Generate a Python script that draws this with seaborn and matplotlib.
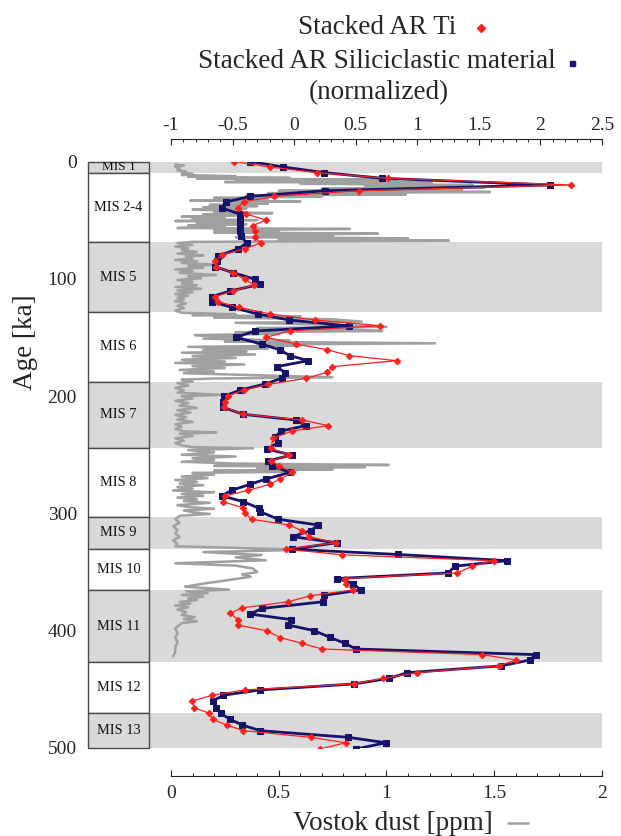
import numpy as np
import pandas as pd
import matplotlib
matplotlib.use("Agg")
import matplotlib.pyplot as plt
from matplotlib.lines import Line2D
from matplotlib.patches import Rectangle
from matplotlib.ticker import FixedLocator, FuncFormatter, MultipleLocator
import seaborn as sns

# ---------------------------------------------------------------- data
# Marine isotope stages (ka)
mis_labels = ["MIS 1", "MIS 2-4", "MIS 5", "MIS 6", "MIS 7", "MIS 8",
              "MIS 9", "MIS 10", "MIS 11", "MIS 12", "MIS 13"]
mis_bounds = [0, 10, 69, 128, 188, 244, 303, 330, 365, 427, 470, 500]
mis_shaded = [True, False, True, False, True, False, True, False, True, False, True]

# Stacked AR Ti (normalized)
ti_age = [0, 4.7, 9.5, 14.3, 20, 24.9, 29.7, 34.5, 39.6, 44.8, 49.9, 54.7,
          59.5, 64.6, 69.5, 74.3, 79.7, 84.8, 89.7, 94.8, 100.4, 105.3, 110.1,
          115.2, 119.5, 124.3, 130, 135.1, 140, 144.5, 149.9, 155.6, 160.4,
          165.5, 169.8, 174.9, 179.7, 184.8, 190, 194.8, 199.6, 204.8, 209.6,
          215.5, 220.4, 225.2, 229.8, 236, 244.5, 250.2, 255.3, 259.6, 265,
          270.7, 275.2, 280.3, 285, 290, 295.1, 299.9, 305, 309.9, 314.7,
          319.8, 325, 330.5, 335.3, 340.3, 345, 350.8, 355.5, 360, 365.3,
          370.2, 375.3, 380.6, 385.2, 390.5, 395.2, 400, 405.8, 410.8, 415.6,
          420.4, 425, 430, 435.8, 440.6, 445.4, 450.5, 455, 460, 465.6, 470.4,
          475.6, 480.4, 485.2, 490.9, 495.5, 500.9]
ti_value = [-0.486, -0.196, 0.188, 0.76, 2.25, 0.53, -0.164, -0.41, -0.458,
            -0.39, -0.226, -0.337, -0.318, -0.318, -0.272, -0.399, -0.583,
            -0.643, -0.637, -0.5, -0.399, -0.323, -0.494, -0.643, -0.616,
            -0.45, -0.196, 0.17, 0.697, -0.034, -0.23, 0.015, 0.264, 0.448,
            0.833, 0.31, 0.268, 0.1, -0.21, -0.405, -0.534, -0.565, -0.567,
            -0.413, 0.066, 0.278, -0.02, -0.17, -0.19, -0.04, -0.19, -0.12,
            -0.015, -0.115, -0.196, -0.372, -0.561, -0.58, -0.418, -0.399,
            -0.345, -0.04, 0.061, 0.121, 0.337, -0.069, 0.392, 1.62, 1.447,
            1.325, 0.415, 0.42, 0.475, 0.132, -0.047, -0.427, -0.519, -0.458,
            -0.458, -0.223, -0.115, 0.064, 0.226, 1.528, 1.8, 1.66, 1.0,
            0.724, 0.486, -0.402, -0.664, -0.83, -0.81, -0.69, -0.661, -0.548,
            -0.413, 0.134, 0.419, 0.21]

# Stacked AR siliciclastic material (normalized)
sc_age = [0, 4.7, 9.5, 14.3, 20, 24.9, 29.7, 34.5, 39.6, 44.8, 49.6, 54.4,
          59.1, 63.8, 69.5, 74.3, 80.6, 85, 89.7, 94.8, 100.4, 104.7, 110.4,
          115.2, 119.5, 124.3, 130, 135.1, 140.2, 144.5, 149.9, 155.6, 160.7,
          165.5, 169.8, 174.9, 180, 184.8, 189.7, 195, 199.9, 204.8, 209.5,
          215.5, 220.4, 225.2, 229.8, 235.1, 239.7, 245.1, 250.2, 255.3,
          259.6, 265, 270.7, 275.2, 280.3, 285, 290, 295.7, 298.5, 305, 309.9,
          314.7, 319.8, 325, 330.5, 335, 340.3, 345, 350.8, 355.5, 359.8,
          365.3, 369.8, 375.3, 381, 385.8, 390.5, 395.2, 400, 405.6, 410.8,
          415.6, 420.4, 425, 430, 435.8, 440.6, 445.4, 450.5, 455, 460, 465.6,
          470.4, 475.6, 480.4, 485.2, 490.9, 495.5, 500.9]
sc_value = [-0.356, -0.088, 0.245, 0.716, 2.08, 0.253, -0.356, -0.553, -0.588,
            -0.44, -0.44, -0.44, -0.44, -0.43, -0.385, -0.453, -0.616, -0.63,
            -0.643, -0.494, -0.318, -0.277, -0.52, -0.67, -0.67, -0.507,
            -0.296, -0.042, 0.448, -0.318, -0.475, -0.264, -0.115, -0.034,
            0.115, -0.142, -0.074, -0.1, -0.237, -0.44, -0.567, -0.58, -0.58,
            -0.413, 0.015, 0.094, -0.107, -0.155, -0.128, -0.223, -0.02,
            -0.215, -0.182, -0.034, -0.228, -0.358, -0.507, -0.588, -0.413,
            -0.283, -0.277, -0.128, 0.196, 0.134, -0.012, 0.346, -0.02, 0.84,
            1.729, 1.306, 1.25, 0.35, 0.48, 0.54, 0.245, 0.237, -0.259, -0.358,
            -0.026, -0.047, 0.164, 0.289, 0.413, 0.502, 1.962, 1.915, 1.68,
            0.92, 0.77, 0.488, -0.277, -0.575, -0.661, -0.635, -0.596, -0.52,
            -0.42, -0.277, 0.44, 0.743, 0.502]

# Vostok dust concentration (ppm)
dust_age = [2.5, 3.5, 4.5, 6.0, 7.5, 8.5, 9.5, 10.5, 11.5, 12.5, 13.0, 14.0,
            14.5, 15.5, 16.0, 17.0, 17.5, 18.0, 19.0, 20.0, 21.0, 22.0, 23.0,
            24.0, 25.0, 26.0, 27.0, 28.0, 29.0, 30.0, 31.0, 32.5, 33.4, 34.0,
            35.0, 36.0, 37.0, 38.0, 39.0, 40.0, 41.0, 42.0, 43.0, 44.0, 45.0,
            46.0, 47.0, 48.0, 49.0, 50.0, 50.7, 51.5, 52.5, 53.5, 54.5, 55.5,
            56.7, 57.5, 58.5, 59.5, 60.5, 61.5, 62.5, 63.5, 64.5, 65.5, 66.6,
            67.5, 68.5, 69.5, 71.0, 72.5, 74.0, 75.5, 77.0, 78.5, 80.0, 81.0,
            82.5, 84.0, 85.0, 86.5, 88.0, 89.0, 90.5, 92.0, 93.5, 95.0, 96.7,
            98.0, 99.5, 101.0, 102.5, 104.0, 105.5, 107.0, 108.5, 110.0, 111.5,
            113.0, 114.5, 116.0, 117.5, 119.0, 121.0, 123.0, 125.0, 127.0,
            129.0, 130.0, 131.0, 132.0, 133.0, 134.5, 136.5, 137.5, 139.0,
            141.0, 142.0, 143.0, 144.5, 145.5, 147.0, 148.0, 149.5, 151.0,
            152.5, 153.5, 155.0, 156.0, 157.0, 158.0, 159.5, 160.7, 162.0,
            163.0, 164.5, 166.0, 167.5, 169.0, 170.5, 171.7, 173.0, 174.5,
            176.0, 177.7, 179.0, 180.5, 182.0, 184.0, 185.0, 186.0, 187.7,
            189.0, 191.0, 193.0, 195.0, 197.0, 199.0, 200.0, 202.0, 204.0,
            206.0, 208.0, 210.0, 212.0, 214.0, 216.0, 218.0, 220.0, 222.0,
            224.0, 226.0, 228.0, 230.0, 231.0, 232.0, 234.0, 236.0, 238.0,
            240.0, 242.0, 243.5, 244.5, 246.0, 248.0, 250.0, 251.5, 253.0,
            254.5, 256.0, 257.5, 258.7, 259.5, 260.5, 261.5, 262.5, 263.5,
            264.5, 265.5, 267.0, 268.5, 270.0, 271.5, 273.0, 274.5, 276.0,
            277.5, 279.0, 280.5, 282.0, 283.5, 285.0, 286.5, 288.0, 289.5,
            291.0, 293.0, 294.5, 296.0, 297.5, 299.0, 300.5, 302.0, 305.0,
            308.0, 311.0, 314.0, 317.0, 320.0, 323.0, 326.0, 328.0, 331.0,
            333.0, 335.5, 337.5, 340.0, 342.5, 344.5, 347.0, 350.0, 352.0,
            354.0, 357.0, 359.6, 362.5, 365.0, 366.5, 368.0, 369.5, 371.0,
            372.5, 373.8, 375.5, 377.0, 378.5, 380.0, 382.0, 384.0, 386.6,
            388.5, 390.0, 392.0, 393.5, 395.0, 398.0, 402.0, 406.0, 410.0,
            414.0, 418.0, 422.0]
dust_ppm = [0.02, 0.06, 0.02, 0.04, 0.03, 0.07, 0.05, 0.10, 0.05, 0.30, 0.08,
            0.55, 0.12, 1.05, 0.30, 0.90, 0.25, 1.21, 0.60, 1.40, 0.90, 1.46,
            0.70, 1.35, 0.50, 1.48, 0.45, 1.09, 0.35, 0.70, 0.20, 0.45, 0.09,
            0.60, 0.25, 0.45, 0.18, 0.40, 0.15, 0.35, 0.10, 0.30, 0.20, 0.47,
            0.15, 0.30, 0.05, 0.25, 0.10, 0.40, 0.02, 0.30, 0.12, 0.35, 0.08,
            0.25, 0.03, 0.83, 0.20, 0.50, 0.20, 0.96, 0.40, 0.75, 0.30, 1.10,
            0.50, 1.29, 0.10, 0.03, 0.10, 0.02, 0.08, 0.05, 0.12, 0.03, 0.15,
            0.07, 0.10, 0.02, 0.12, 0.05, 0.21, 0.08, 0.15, 0.02, 0.10, 0.04,
            0.21, 0.08, 0.14, 0.03, 0.10, 0.05, 0.12, 0.02, 0.14, 0.03, 0.10,
            0.02, 0.08, 0.03, 0.06, 0.02, 0.07, 0.03, 0.06, 0.02, 0.05, 0.30,
            0.10, 0.60, 0.20, 0.75, 0.885, 0.30, 0.70, 1.00, 0.40, 0.80, 0.98,
            0.30, 0.50, 0.11, 0.33, 0.15, 0.55, 0.25, 1.225, 0.40, 0.60, 0.08,
            0.45, 0.15, 0.35, 0.05, 0.39, 0.10, 0.30, 0.05, 0.25, 0.02, 0.34,
            0.10, 0.25, 0.04, 0.20, 0.06, 0.35, 0.75, 0.20, 0.05, 0.10, 0.03,
            0.08, 0.02, 0.06, 0.03, 0.23, 0.05, 0.10, 0.02, 0.08, 0.04, 0.12,
            0.03, 0.09, 0.02, 0.07, 0.03, 0.10, 0.02, 0.05, 0.02, 0.06, 0.21,
            0.04, 0.10, 0.02, 0.06, 0.02, 0.05, 0.10, 0.38, 0.08, 0.20, 0.05,
            0.30, 0.10, 0.20, 0.05, 0.30, 1.01, 0.20, 0.90, 0.40, 0.75, 0.20,
            0.575, 0.10, 0.20, 0.05, 0.17, 0.02, 0.12, 0.04, 0.15, 0.03, 0.10,
            0.01, 0.20, 0.05, 0.15, 0.03, 0.12, 0.06, 0.18, 0.03, 0.08, 0.20,
            0.06, 0.10, 0.18, 0.04, 0.02, 0.04, 0.01, 0.03, 0.02, 0.04, 0.01,
            0.03, 0.02, 0.62, 0.15, 0.42, 0.30, 0.44, 0.02, 0.30, 0.38, 0.40,
            0.33, 0.37, 0.26, 0.16, 0.065, 0.27, 0.07, 0.17, 0.05, 0.15, 0.08,
            0.12, 0.04, 0.09, 0.02, 0.08, 0.03, 0.07, 0.05, 0.11, 0.06, 0.12,
            0.05, 0.04, 0.02, 0.03, 0.02, 0.03, 0.02, 0.02, 0.01]

# Tick values for the two horizontal scales and the age scale
dust_ticks = [0, 0.5, 1, 1.5, 2]
norm_ticks = [-1, -0.5, 0, 0.5, 1, 1.5, 2, 2.5]
age_ticks = [0, 100, 200, 300, 400, 500]

# ---------------------------------------------------------------- style
sns.set_style("white")
plt.rcParams["font.family"] = ["Liberation Serif", "DejaVu Serif"]
plt.rcParams["axes.unicode_minus"] = False

RED = "#ff1f1f"
NAVY = "#16136a"
GREY = "#a0a0a0"
BAND = "#d9d9d9"
EDGE = "#4a4a4a"
TICK_FS = 14
LABEL_FS = 19.5

W, H = 621, 836
fig = plt.figure(figsize=(W / 100, H / 100), dpi=100)


def frame(left, top, right, bottom):
    return [left / W, 1 - bottom / H, (right - left) / W, (bottom - top) / H]


dust_lo = -0.102
ax = fig.add_axes(frame(149, 161.5, 602, 748))
ax_mis = fig.add_axes(frame(88, 161.5, 149, 748))

# shaded interglacial bands across the data panel
for a0, a1, shaded in zip(mis_bounds[:-1], mis_bounds[1:], mis_shaded):
    if shaded:
        ax.axhspan(a0, a1, color=BAND, lw=0, zorder=0)

dust = pd.DataFrame({"age": dust_age, "ppm": dust_ppm})
sns.lineplot(data=dust, x="ppm", y="age", sort=False, estimator=None,
             color=GREY, lw=1.8, ax=ax, zorder=2)
ax.set_xlim(dust_lo, 2)
ax.set_ylim(500, 0)

# normalized stacks on a twin horizontal scale (-1 aligned with 0 ppm)
ax_top = ax.twiny()
ax_top.set_xlim(-1 + 1.75 * dust_lo, 2.5)
sc = pd.DataFrame({"age": sc_age, "value": sc_value})
ti = pd.DataFrame({"age": ti_age, "value": ti_value})
sns.lineplot(data=sc, x="value", y="age", sort=False, estimator=None,
             color=NAVY, lw=2.0, marker="s", ms=4.3, mec=NAVY, mfc=NAVY,
             ax=ax_top, zorder=3)
sns.lineplot(data=ti, x="value", y="age", sort=False, estimator=None,
             color=RED, lw=0.9, marker="D", ms=3.3, mec=RED, mfc=RED,
             ax=ax_top, zorder=4)
ax_top.set_ylim(500, 0)

fmt = FuncFormatter(lambda v, p: f"{v:g}")

# bottom scale: Vostok dust
for s in ("left", "right", "top"):
    ax.spines[s].set_visible(False)
ax.spines["bottom"].set_position(("outward", 20))
ax.spines["bottom"].set_bounds(0, 2)
ax.spines["bottom"].set_linewidth(0.8)
ax.spines["bottom"].set_color("#222222")
ax.xaxis.set_major_locator(FixedLocator(dust_ticks))
ax.xaxis.set_minor_locator(FixedLocator(np.round(np.arange(0, 2.001, 0.1), 2)))
ax.xaxis.set_major_formatter(fmt)
ax.tick_params(axis="x", which="major", direction="in", length=4.5, width=0.8,
               labelsize=TICK_FS, pad=7, color="#222222")
ax.tick_params(axis="x", which="minor", direction="in", length=2.3, width=0.7,
               color="#222222")
ax.tick_params(axis="y", left=False, labelleft=False)
ax.set_xlabel("")
ax.set_ylabel("")

# top scale: normalized stacks
for s in ("left", "right", "bottom"):
    ax_top.spines[s].set_visible(False)
ax_top.spines["top"].set_position(("outward", 16))
ax_top.spines["top"].set_bounds(-1, 2.5)
ax_top.spines["top"].set_linewidth(0.8)
ax_top.spines["top"].set_color("#222222")
ax_top.xaxis.set_major_locator(FixedLocator(norm_ticks))
ax_top.xaxis.set_minor_locator(FixedLocator(np.round(np.arange(-1, 2.501, 0.1), 2)))
ax_top.xaxis.set_major_formatter(fmt)
ax_top.tick_params(axis="x", which="major", direction="in", length=4.5, width=0.8,
                   labelsize=TICK_FS, pad=3.5, color="#222222")
ax_top.tick_params(axis="x", which="minor", direction="in", length=2.3, width=0.7,
                   color="#222222")
ax_top.set_xlabel("")
ax_top.set_ylabel("")

# stage column with age scale
ax_mis.set_xlim(0, 1)
ax_mis.set_ylim(500, 0)
for s in ax_mis.spines.values():
    s.set_visible(False)
for lab, a0, a1, shaded in zip(mis_labels, mis_bounds[:-1], mis_bounds[1:], mis_shaded):
    ax_mis.add_patch(Rectangle((0, a0), 1, a1 - a0, facecolor=BAND if shaded else "white",
                               edgecolor=EDGE, lw=1.0, clip_on=False))
    ax_mis.text(0.5, (a0 + a1) / 2, lab, ha="center", va="center",
                fontsize=9.5 if lab == "MIS 1" else 10.4, color="#111111")
ax_mis.set_xticks([])
ax_mis.yaxis.set_major_locator(FixedLocator(age_ticks))
ax_mis.yaxis.set_minor_locator(MultipleLocator(20))
ax_mis.tick_params(axis="y", which="both", direction="out", length=5, width=0.8,
                   labelsize=TICK_FS, pad=3, color="#222222")

# titles, axis names and their series keys
fig.text(25 / W, 1 - 342 / H, "Age [ka]", rotation=90, ha="center", va="center",
         fontsize=LABEL_FS)
fig.text(377 / W, 1 - 28 / H, "Stacked AR Ti", ha="center", va="center",
         fontsize=LABEL_FS)
fig.text(377 / W, 1 - 62 / H, "Stacked AR Siliciclastic material", ha="center",
         va="center", fontsize=LABEL_FS)
fig.text(379 / W, 1 - 93 / H, "(normalized)", ha="center", va="center",
         fontsize=LABEL_FS)
fig.text(393 / W, 1 - 824 / H, "Vostok dust [ppm]", ha="center", va="center",
         fontsize=LABEL_FS)
fig.add_artist(Line2D([481 / W], [1 - 28 / H], marker="D", ms=4, color=RED,
                      transform=fig.transFigure))
fig.add_artist(Line2D([572 / W], [1 - 63 / H], marker="s", ms=3.6, color=NAVY,
                      transform=fig.transFigure))
fig.add_artist(Line2D([508 / W, 528 / W], [1 - 823 / H, 1 - 823 / H], lw=1.8,
                      color=GREY, transform=fig.transFigure))

fig.savefig("out.png", dpi=100)
